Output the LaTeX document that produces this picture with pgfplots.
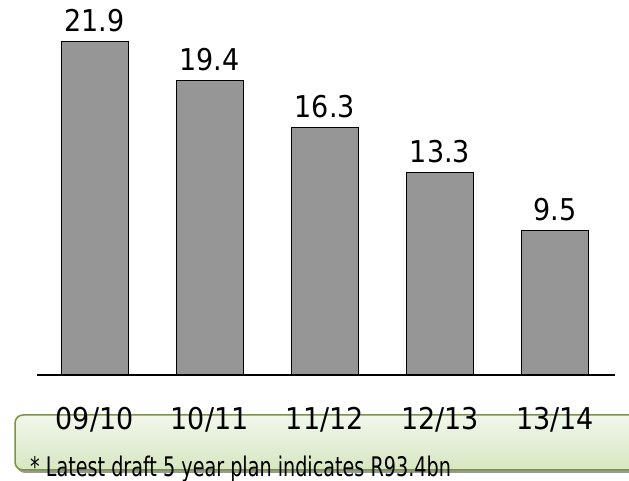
\documentclass[border=0pt]{standalone}
\usepackage{pgfplots}
\pgfplotsset{compat=1.18}
\usepackage{fontspec}
\setmainfont{DejaVu Sans Condensed}
\definecolor{boxborder}{RGB}{122,150,62}
\definecolor{boxtop}{RGB}{242,247,236}
\definecolor{boxbot}{RGB}{214,230,193}
\definecolor{bargray}{RGB}{150,150,150}
\begin{document}
\begin{tikzpicture}
\path[use as bounding box] (0pt,0pt) rectangle (629pt,481pt);
\begin{scope}
\clip (0pt,0pt) rectangle (629pt,481pt);
\fill[black!40, rounded corners=8pt] (17pt,8pt) rectangle (700pt,63pt);
\shade[top color=boxtop, bottom color=boxbot, draw=boxborder, line width=1.5pt, rounded corners=8pt] (15pt,11pt) rectangle (700pt,66pt);
\end{scope}
\begin{axis}[
  at={(37pt,106pt)}, anchor=south west,
  scale only axis, width=578pt, height=333pt,
  xmin=-0.5, xmax=4.52, ymin=0, ymax=21.9,
  clip=false,
  hide y axis,
  axis x line*=bottom,
  x axis line style={line width=1.5pt,-},
  xtick={0,1,2,3,4},
  xticklabels={09/10,10/11,11/12,12/13,13/14},
  major tick length=0pt,
  xticklabel style={anchor=base, yshift=-55pt, font=\fontsize{30}{32}\selectfont},
]
\addplot[ybar, bar width=67pt, fill=bargray, draw=black, line width=1pt,
  nodes near coords, point meta=explicit symbolic,
  every node near coord/.append style={anchor=base, yshift=10pt, font=\fontsize{30}{32}\selectfont, text=black}]
  coordinates {(0,21.9)[21.9] (1,19.4)[19.4] (2,16.3)[16.3] (3,13.3)[13.3] (4,9.5)[9.5]};
\end{axis}
\node[anchor=base west, inner sep=0pt, font=\fontsize{27}{28}\selectfont] at (30pt,4pt) {\scalebox{0.79}[1]{* Latest draft 5 year plan indicates R93.4bn}};
\end{tikzpicture}
\end{document}
